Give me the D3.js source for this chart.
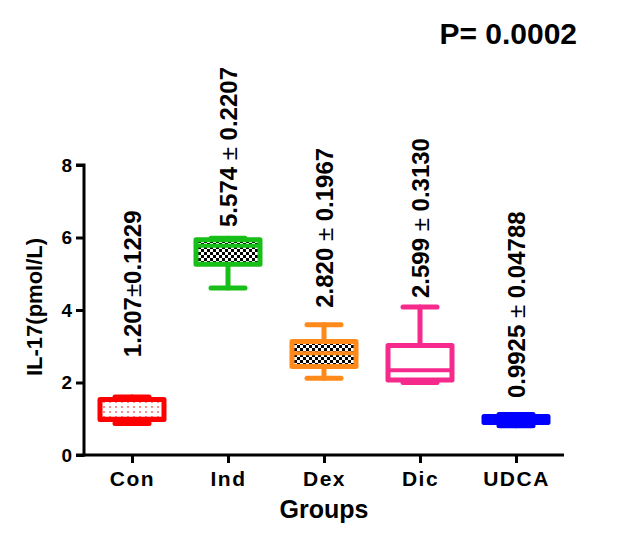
<!DOCTYPE html>
<html>
<head>
<meta charset="utf-8">
<script src="https://cdn.jsdelivr.net/npm/d3@7"></script>
<style>
  body { margin: 0; background: #fff; }
  svg { display: block; font-family: "Liberation Sans", Arial, sans-serif; }
</style>
</head>
<body>
<svg id="chart" width="630" height="537"></svg>
<script>
// groups and box values
var groups = ['Con', 'Ind', 'Dex', 'Dic', 'UDCA'];
var mins    = [0.87, 4.61, 2.12, 2.00, 0.81];
var q1s     = [0.98, 5.26, 2.44, 2.07, 0.90];
var medians = [1.00, 5.77, 2.81, 2.34, 0.99];
var q3s     = [1.53, 5.94, 3.13, 3.02, 1.06];
var maxs    = [1.60, 5.98, 3.59, 4.08, 1.12];

// mean +- sem annotations
var means = ['1.207', '5.574', '2.820', '2.599', '0.9925'];
var sems  = ['0.1229', '0.2207', '0.1967', '0.3130', '0.04788'];
var labelAt = [2.70, 6.29, 4.06, 4.33, 1.57];
var yTicks = [0, 2, 4, 6, 8];

var colors = ['#ff0000', '#19bf19', '#ff8a1c', '#f52a8c', '#0000ff'];
var fills  = ['url(#dots)', 'url(#checker)', 'url(#checker)', '#fff', '#0000ff'];

var svg = d3.select('#chart');

var defs = svg.append('defs');
var checker = defs.append('pattern')
    .attr('id', 'checker').attr('patternUnits', 'userSpaceOnUse')
    .attr('width', 6).attr('height', 6);
checker.append('rect').attr('width', 6).attr('height', 6).attr('fill', '#fff');
checker.append('rect').attr('width', 3).attr('height', 3).attr('fill', '#000');
checker.append('rect').attr('x', 3).attr('y', 3).attr('width', 3).attr('height', 3).attr('fill', '#000');

var dots = defs.append('pattern')
    .attr('id', 'dots').attr('patternUnits', 'userSpaceOnUse')
    .attr('width', 6).attr('height', 5);
dots.append('rect').attr('width', 6).attr('height', 5).attr('fill', '#fff');
dots.append('circle').attr('cx', 2).attr('cy', 2).attr('r', 0.8).attr('fill', '#e00');

var y = d3.scaleLinear().domain([0, 8]).range([455, 165]);
var x = d3.scalePoint().domain(groups).range([84, 564]).padding(0.5);

var boxW = 64, capW = 34;

var rows = groups.map(function(g, i) {
    return {g: g, i: i, min: mins[i], q1: q1s[i], med: medians[i], q3: q3s[i], max: maxs[i]};
});

var box = svg.selectAll('g.box')
    .data(rows)
  .enter().append('g')
    .attr('class', 'box')
    .attr('stroke', function(d) { return colors[d.i]; })
    .attr('stroke-width', 5)
    .attr('stroke-linejoin', 'round')
    .attr('stroke-linecap', 'round');

// whiskers
box.append('line')
    .attr('x1', function(d) { return x(d.g); }).attr('x2', function(d) { return x(d.g); })
    .attr('y1', function(d) { return y(d.max); }).attr('y2', function(d) { return y(d.min); });
box.append('line')
    .attr('x1', function(d) { return x(d.g) - capW / 2; }).attr('x2', function(d) { return x(d.g) + capW / 2; })
    .attr('y1', function(d) { return y(d.max); }).attr('y2', function(d) { return y(d.max); });
box.append('line')
    .attr('x1', function(d) { return x(d.g) - capW / 2; }).attr('x2', function(d) { return x(d.g) + capW / 2; })
    .attr('y1', function(d) { return y(d.min); }).attr('y2', function(d) { return y(d.min); });

// box
box.append('rect')
    .attr('x', function(d) { return x(d.g) - boxW / 2; })
    .attr('width', boxW)
    .attr('y', function(d) { return y(d.q3); })
    .attr('height', function(d) { return y(d.q1) - y(d.q3); })
    .attr('fill', function(d) { return fills[d.i]; });

// median
box.append('line')
    .attr('stroke-width', 4)
    .attr('stroke-linecap', 'butt')
    .attr('x1', function(d) { return x(d.g) - boxW / 2; }).attr('x2', function(d) { return x(d.g) + boxW / 2; })
    .attr('y1', function(d) { return y(d.med); }).attr('y2', function(d) { return y(d.med); });

// axes
var yAxis = svg.append('g')
    .attr('transform', 'translate(84,0)')
    .call(d3.axisLeft(y).tickValues(yTicks).tickSize(8).tickPadding(4));
var xAxis = svg.append('g')
    .attr('transform', 'translate(0,455)')
    .call(d3.axisBottom(x).tickSize(8).tickPadding(8));

xAxis.select('.domain').attr('d', 'M84,0H564');
[yAxis, xAxis].forEach(function(a) {
    a.selectAll('path, line').attr('stroke', '#000').attr('stroke-width', 3);
    a.selectAll('text').attr('fill', '#000').style('font-weight', 'bold')
        .style('font-family', '"Liberation Sans", Arial, sans-serif');
});
yAxis.select('.domain').attr('d', 'M-8,' + y(8) + 'H0V' + y(0) + 'H-8');
yAxis.selectAll('text').style('font-size', '19px');
xAxis.selectAll('text').style('font-size', '21px').style('letter-spacing', '1.5px');

// mean +- sem labels
var lab = svg.selectAll('text.stat')
    .data(rows)
  .enter().append('text')
    .attr('class', 'stat')
    .attr('transform', function(d) { return 'translate(' + x(d.g) + ',' + y(labelAt[d.i]) + ') rotate(-90)'; })
    .attr('dy', '0.36em')
    .style('font-size', '24px')
    .style('font-weight', 'bold');
lab.append('tspan').text(function(d) { return means[d.i]; });
lab.append('tspan').style('font-weight', 'normal')
    .text(function(d) { return d.i === 0 ? '±' : ' ± '; });
lab.append('tspan').text(function(d) { return sems[d.i]; });

// titles
svg.append('text')
    .attr('x', 577).attr('y', 44)
    .attr('text-anchor', 'end')
    .style('font-size', '30px').style('font-weight', 'bold')
    .text('P= 0.0002');

svg.append('text')
    .attr('transform', 'translate(42,307) rotate(-90)')
    .attr('text-anchor', 'middle')
    .style('font-size', '22px').style('font-weight', 'bold')
    .text('IL-17(pmol/L)');

svg.append('text')
    .attr('x', 324).attr('y', 518)
    .attr('text-anchor', 'middle')
    .style('font-size', '25px').style('font-weight', 'bold')
    .text('Groups');
</script>
</body>
</html>
